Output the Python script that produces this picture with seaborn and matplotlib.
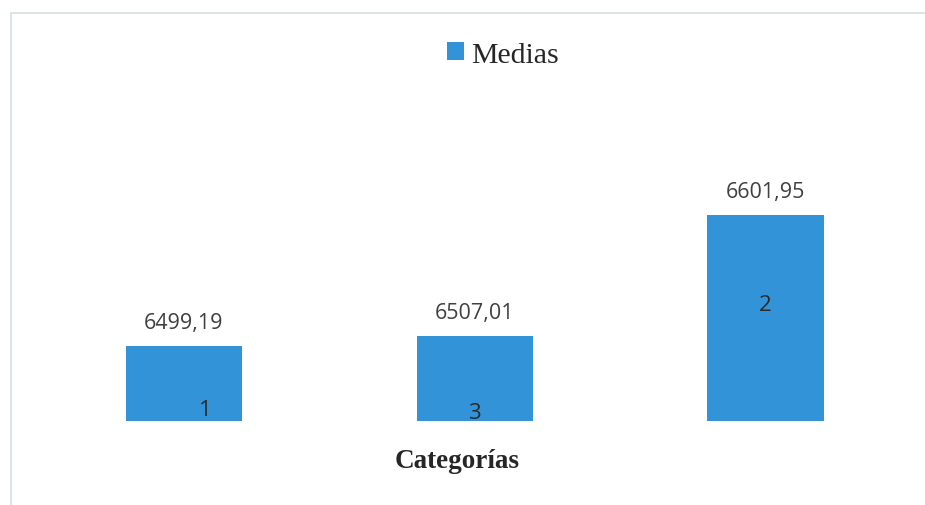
import matplotlib
matplotlib.use("Agg")
import matplotlib.pyplot as plt
from matplotlib.patches import Patch
from matplotlib.lines import Line2D
import seaborn as sns

# Mean value per category, in display order
categorias = ["1", "3", "2"]
medias = [6499.19, 6507.01, 6601.95]
serie = "Medias"
titulo_eje = "Categorías"

AZUL = "#3393D8"
GRIS_TEXTO = "#404040"
Y_MIN, Y_MAX = 6440, 6660

sns.set_theme(style="white")
plt.rcParams["font.family"] = ["Open Sans", "DejaVu Sans"]

W, H = 925, 506
fig = plt.figure(figsize=(W / 100, H / 100), dpi=100)
fig.patch.set_facecolor("white")

# Axes placed in pixel terms
left_px, right_px, bottom_px, top_px = 38.6, 910.9, 422, 141.5
ax = fig.add_axes([left_px / W, (H - bottom_px) / H,
                   (right_px - left_px) / W, (bottom_px - top_px) / H])

sns.barplot(x=categorias, y=medias, order=categorias, color=AZUL,
            saturation=1, width=0.4, linewidth=0, ax=ax)
ax.set_ylim(Y_MIN, Y_MAX)
ax.set_xlim(-0.5, 2.5)

for s in ax.spines.values():
    s.set_visible(False)
ax.tick_params(length=0, labelbottom=False, labelleft=False)
ax.set_ylabel("")

# Value labels above each bar
for i, v in enumerate(medias):
    ax.annotate(f"{v:.2f}".replace(".", ","), xy=(i, v), xytext=(0, 12.6),
                textcoords="offset points", ha="center", va="baseline",
                fontsize=15.5, color=GRIS_TEXTO)

# Category names drawn inside the bars
dentro = {"1": ("base", 15, 8.6), "3": ("base", 0, 5.8), "2": ("top", 0, -64.8)}
for i, (cat, v) in enumerate(zip(categorias, medias)):
    ref, dx, dy = dentro[cat]
    y0 = Y_MIN if ref == "base" else v
    ax.annotate(cat, xy=(i, y0), xytext=(dx, dy), textcoords="offset points",
                ha="center", va="center", fontsize=16, color="#2a2a2a")

# Axis title
ax.set_xlabel(titulo_eje, fontsize=19.5, fontweight="bold",
              family=["Liberation Serif", "DejaVu Serif"], color="#262626")
ax.xaxis.label.set_va("baseline")
ax.xaxis.set_label_coords((457.5 - left_px) / (right_px - left_px),
                          -(468 - bottom_px) / (bottom_px - top_px))

# Legend
leg = fig.legend(handles=[Patch(facecolor=AZUL, edgecolor="none", label=serie)],
                 loc="center", bbox_to_anchor=(503 / W, 1 - 56 / H),
                 frameon=False, handlelength=0.55, handleheight=0.55,
                 handletextpad=0.25, borderpad=0,
                 prop={"family": ["Liberation Serif", "DejaVu Serif"], "size": 21.5})
for t in leg.get_texts():
    t.set_color("#262626")

# Chart frame (top and left edges)
borde = "#D2E2E2"
fig.add_artist(Line2D([10.5 / W, 1.0], [1 - 14 / H, 1 - 14 / H],
                      transform=fig.transFigure, color=borde, lw=1.2))
fig.add_artist(Line2D([10.5 / W, 10.5 / W], [0, 1 - 14 / H],
                      transform=fig.transFigure, color=borde, lw=1.2))

fig.savefig("out.png", dpi=100, facecolor="white")
